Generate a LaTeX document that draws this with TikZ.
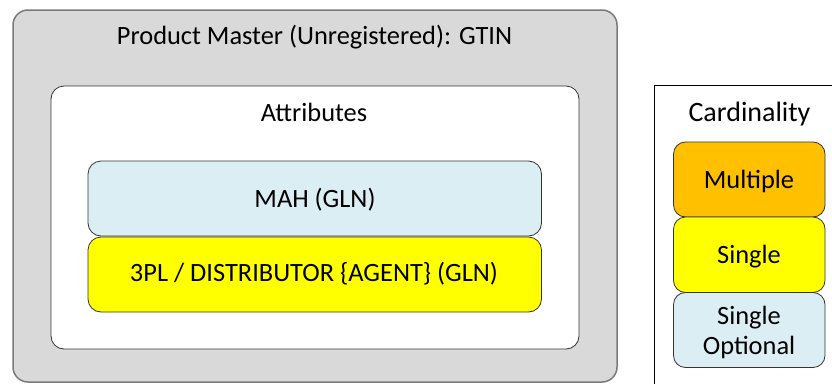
\documentclass[tikz,border=0pt]{standalone}
\usepackage{fontspec}
\setmainfont{Carlito}
\definecolor{outerfill}{HTML}{D9D9D9}
\definecolor{outerline}{HTML}{7A7A7A}
\definecolor{lightblue}{HTML}{DAEEF3}
\definecolor{yel}{HTML}{FFFF00}
\definecolor{orng}{HTML}{FFC000}
\begin{document}
\begin{tikzpicture}[x=1pt,y=-1pt,
  box/.style={draw=black!80, line width=0.8pt, rounded corners=13pt},
  lbl/.style={font=\fontsize{26.4}{30}\selectfont, align=center, inner sep=0pt},
  legbox/.style={draw=black!80, line width=0.8pt, rounded corners=12pt}]
\useasboundingbox (0,0) rectangle (832,383);
% outer
\draw[fill=outerfill, draw=outerline, line width=1.5pt, rounded corners=15pt] (13,10) rectangle (617,382);
\node[lbl] (title) at (314.5,37.5) {Product Master (Unregistered): GTIN};
% attributes
\draw[box, fill=white] (51,86) rectangle (579,349);
\node[lbl] (attr) at (314,112) {Attributes};
\draw[box, fill=lightblue] (88,161) rectangle (541.5,236);
\node[lbl] (mah) at (315,199.5) {MAH (GLN)};
\draw[box, fill=yel] (88,237) rectangle (541.5,312);
\node[lbl] (tpl) at (314,274) {3PL / DISTRIBUTOR \{AGENT\} (GLN)};
% legend
\draw[black, line width=0.8pt, fill=white] (654.5,85) rectangle (845,400);
\node[lbl, font=\fontsize{28}{32}\selectfont] (card) at (749.5,114) {Cardinality};
\draw[legbox, fill=orng] (673.5,142) rectangle (825,217);
\node[lbl] (mult) at (749,181.5) {Multiple};
\draw[legbox, fill=yel] (673.5,217) rectangle (825,292.5);
\node[lbl] (sing) at (749,256.5) {Single};
\draw[legbox, fill=lightblue] (673.5,292.5) rectangle (825,367.5);
\node[lbl] (opt) at (749,332) {Single\\Optional};
\end{tikzpicture}
\end{document}
